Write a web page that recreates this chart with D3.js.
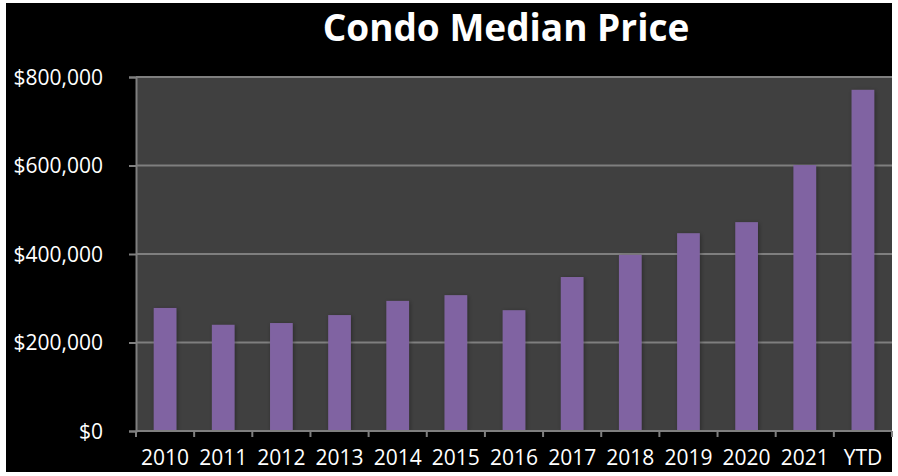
<!DOCTYPE html>
<html>
<head>
<meta charset="utf-8">
<script src="https://cdn.jsdelivr.net/npm/d3@7"></script>
<style>
  body { margin: 0; background: #fff; }
  svg text { font-family: "Open Sans", "Noto Sans", sans-serif; fill: #fff; }
</style>
</head>
<body>
<svg id="chart"></svg>
<script>
// chart data
const years = ["2010", "2011", "2012", "2013", "2014", "2015", "2016", "2017", "2018", "2019", "2020", "2021", "YTD"];
const medianPrice = [278000, 240000, 244000, 262000, 294000, 307000, 273000, 348000, 398000, 447000, 472000, 601000, 771000];
const yTicks = [0, 200000, 400000, 600000, 800000];

const width = 898, height = 476;
const margin = { top: 77, right: 6, bottom: 45, left: 136 };
const innerW = width - margin.left - margin.right;
const innerH = height - margin.top - margin.bottom;

const svg = d3.select("#chart").attr("width", width).attr("height", height);

// black frame
svg.append("rect")
  .attr("x", 6).attr("y", 3)
  .attr("width", 886).attr("height", 469)
  .attr("fill", "#000");

// soft shadow for bars
const defs = svg.append("defs");
const shadow = defs.append("filter").attr("id", "shadow")
  .attr("x", "-30%").attr("y", "-10%").attr("width", "160%").attr("height", "120%");
shadow.append("feDropShadow")
  .attr("dx", 1).attr("dy", 1).attr("stdDeviation", 2)
  .attr("flood-color", "#000").attr("flood-opacity", 0.35);

const chart = svg.append("g").attr("transform", `translate(${margin.left},${margin.top})`);

const x = d3.scaleBand().domain(years).range([0, innerW]);
const y = d3.scaleLinear().domain([0, 800000]).range([innerH, 0]);

// plot background
chart.append("rect")
  .attr("width", innerW).attr("height", innerH)
  .attr("fill", "#404040");

// gridlines
chart.append("g")
  .selectAll("line")
  .data(yTicks.filter(d => d > 0))
  .join("line")
  .attr("x1", 0).attr("x2", innerW)
  .attr("y1", d => y(d)).attr("y2", d => y(d))
  .attr("stroke", "#7f7f7f").attr("stroke-width", 2);

// bars
const barW = x.bandwidth() * 0.39;
chart.selectAll(".bar")
  .data(medianPrice)
  .join("rect")
  .attr("class", "bar")
  .attr("x", (d, i) => x(years[i]) + (x.bandwidth() - barW) / 2)
  .attr("y", d => y(d))
  .attr("width", barW)
  .attr("height", d => innerH - y(d))
  .attr("fill", "#8064a2")
  .attr("filter", "url(#shadow)");

// y axis
const yAxis = d3.axisLeft(y)
  .tickValues(yTicks)
  .tickSize(7)
  .tickPadding(26)
  .tickFormat(d => "$" + d3.format(",")(d));
const yAxisG = chart.append("g").call(yAxis);
yAxisG.select(".domain").attr("stroke", "#7f7f7f").attr("stroke-width", 2);
yAxisG.selectAll(".tick line").attr("stroke", "#7f7f7f").attr("stroke-width", 2);
yAxisG.selectAll(".tick text")
  .attr("fill", "#fff")
  .style("font-size", "21px")
  .attr("dy", "0.35em");

// x axis with ticks on band edges
const xAxisG = chart.append("g").attr("transform", `translate(0,${innerH})`);
xAxisG.append("line")
  .attr("x1", 0).attr("x2", innerW)
  .attr("stroke", "#7f7f7f").attr("stroke-width", 2);
xAxisG.selectAll(".edge")
  .data(years.concat(["end"]))
  .join("line")
  .attr("class", "edge")
  .attr("x1", (d, i) => i < years.length ? x(d) : innerW)
  .attr("x2", (d, i) => i < years.length ? x(d) : innerW)
  .attr("y1", 0).attr("y2", 6)
  .attr("stroke", "#7f7f7f").attr("stroke-width", 2);
xAxisG.selectAll(".label")
  .data(years)
  .join("text")
  .attr("class", "label")
  .attr("x", d => x(d) + x.bandwidth() / 2)
  .attr("y", 34)
  .attr("text-anchor", "middle")
  .style("font-size", "21px")
  .text(d => d);

// title
svg.append("text")
  .attr("x", 506)
  .attr("y", 41)
  .attr("text-anchor", "middle")
  .style("font-size", "37px")
  .style("font-weight", "bold")
  .text("Condo Median Price");
</script>
</body>
</html>
